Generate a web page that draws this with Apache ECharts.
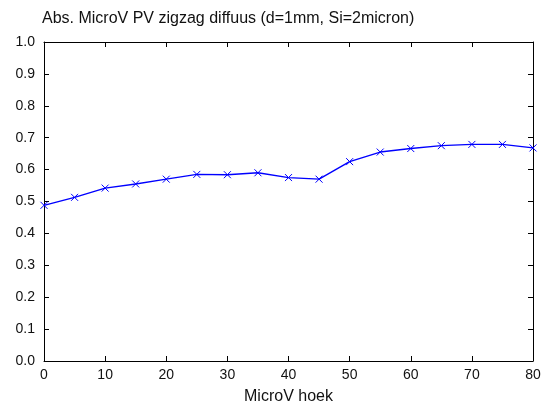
<!DOCTYPE html>
<html><head><meta charset="utf-8">
<script src="https://cdn.jsdelivr.net/npm/echarts@6/dist/echarts.min.js"></script>
<style>html,body{margin:0;padding:0;background:#fff}#c{width:547px;height:410px}</style>
</head><body><div id="c"></div>
<script>
const hoek = [0,5,10,15,20,25,30,35,40,45,50,55,60,65,70,75,80];
const absValues = [0.488,0.513,0.542,0.555,0.570,0.585,0.584,0.590,0.575,0.570,0.625,0.655,0.666,0.675,0.679,0.679,0.668];
const yTicks = [0,0.1,0.2,0.3,0.4,0.5,0.6,0.7,0.8,0.9,1.0];
const xTicks = [0,10,20,30,40,50,60,70,80];
const titleText = 'Abs. MicroV PV zigzag diffuus (d=1mm, Si=2micron)';
const xName = 'MicroV hoek';

const font = 'Liberation Sans, Arial, sans-serif';
const axisLine = {show:true, onZero:false, lineStyle:{color:'#000', width:1}};
const tick = {show:true, inside:true, length:5, lineStyle:{color:'#000'}};
const chart = echarts.init(document.getElementById('c'), null, {renderer:'canvas'});
chart.setOption({
  animation:false,
  backgroundColor:'#fff',
  title:{text:titleText, left:37, top:6, textStyle:{fontFamily:font, fontSize:16, fontWeight:'normal', color:'#111'}},
  grid:{left:44, right:14, top:42, bottom:47, containLabel:false},
  xAxis:[{type:'value', min:0, max:80, interval:10, position:'bottom',
    axisLine, axisTick:tick, splitLine:{show:false},
    axisLabel:{fontFamily:font, fontSize:14, color:'#111', margin:7, formatter:v=>String(v)},
    name:xName, nameLocation:'middle', nameGap:28, nameTextStyle:{fontFamily:font, fontSize:16, color:'#111'}},
   {type:'value', min:0, max:80, interval:10, position:'top', axisLine, axisTick:tick, axisLabel:{show:false}, splitLine:{show:false}}],
  yAxis:[{type:'value', min:0, max:1, interval:0.1, position:'left',
    axisLine, axisTick:tick, splitLine:{show:false},
    axisLabel:{fontFamily:font, fontSize:14, color:'#111', margin:9, formatter:v=>v.toFixed(1)}},
   {type:'value', min:0, max:1, interval:0.1, position:'right', axisLine, axisTick:tick, axisLabel:{show:false}, splitLine:{show:false}}],
  series:[{type:'line', data:hoek.map((h,i)=>[h,absValues[i]]),
    lineStyle:{color:'#0000ff', width:1.4},
    symbol:'path://M0,0L10,10M10,0L0,10', symbolSize:7, showSymbol:true,
    itemStyle:{color:'#0000ff', borderColor:'#0000ff', borderWidth:1}}]
});
</script></body></html>
